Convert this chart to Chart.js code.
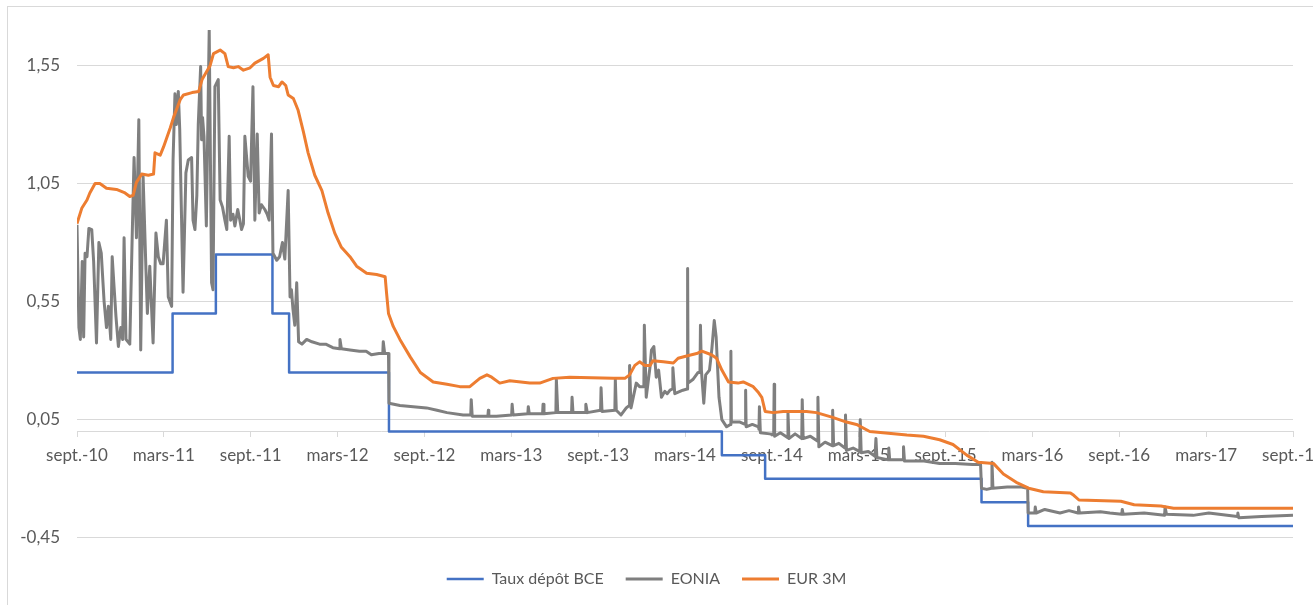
<!DOCTYPE html>
<html>
<head>
<meta charset="utf-8">
<script src="https://cdn.jsdelivr.net/npm/chart.js@4.4.1/dist/chart.umd.min.js"></script>
<style>
  html, body { margin: 0; padding: 0; background: #fff; overflow: hidden; }
  #frame { position: absolute; left: 7px; top: 6px; width: 1400px; height: 700px;
           border-left: 1px solid #d9d9d9; border-top: 1px solid #d9d9d9; }
  #wrap { position: absolute; left: 0; top: 0; width: 1313px; height: 605px; }
</style>
</head>
<body>
<div id="frame"></div>
<div id="wrap"><canvas id="chart"></canvas></div>
<script>
// axe des dates
const xLabels = ["sept.-10", "mars-11", "sept.-11", "mars-12", "sept.-12", "mars-13", "sept.-13",
                 "mars-14", "sept.-14", "mars-15", "sept.-15", "mars-16", "sept.-16", "mars-17", "sept.-17"];
const xStart = "2010-09-24";
const xEnd = "2017-09-24";
const yTicks = [-0.45, 0.05, 0.55, 1.05, 1.55];
const yMin = -0.45;
const yMax = 1.70;

// Taux de dépôt BCE (changements)
const depotBCE = [
  ["2010-09-24", 0.25], ["2011-04-13", 0.50], ["2011-07-13", 0.75], ["2011-11-09", 0.50],
  ["2011-12-14", 0.25], ["2012-07-11", 0.00], ["2014-06-11", -0.10], ["2014-09-10", -0.20],
  ["2015-12-09", -0.30], ["2016-03-16", -0.40], ["2017-09-24", -0.40]
];

// EONIA
const eonia = [
  ["2010-09-24", 0.875], ["2010-09-28", 0.44], ["2010-10-01", 0.39], ["2010-10-05", 0.72],
  ["2010-10-08", 0.40], ["2010-10-11", 0.755], ["2010-10-15", 0.74], ["2010-10-19", 0.86],
  ["2010-10-25", 0.855], ["2010-10-29", 0.72], ["2010-11-04", 0.375], ["2010-11-09", 0.80],
  ["2010-11-14", 0.755], ["2010-11-20", 0.55], ["2010-11-25", 0.44], ["2010-11-29", 0.53],
  ["2010-12-04", 0.39], ["2010-12-07", 0.74], ["2010-12-11", 0.61], ["2010-12-15", 0.485],
  ["2010-12-20", 0.36], ["2010-12-25", 0.44], ["2010-12-29", 0.39], ["2011-01-01", 0.82],
  ["2011-01-05", 0.39], ["2011-01-13", 0.37], ["2011-01-18", 0.82], ["2011-01-22", 1.16],
  ["2011-01-27", 0.82], ["2011-02-01", 1.32], ["2011-02-05", 0.345], ["2011-02-10", 1.08],
  ["2011-02-16", 0.685], ["2011-02-19", 0.50], ["2011-02-24", 0.70], ["2011-03-03", 0.375],
  ["2011-03-09", 0.84], ["2011-03-14", 0.74], ["2011-03-19", 0.71], ["2011-03-24", 0.71],
  ["2011-03-31", 0.895], ["2011-04-04", 0.57], ["2011-04-11", 0.53], ["2011-04-14", 1.15],
  ["2011-04-18", 1.43], ["2011-04-21", 1.30], ["2011-04-25", 1.44], ["2011-04-28", 1.28],
  ["2011-05-05", 0.59], ["2011-05-11", 1.095], ["2011-05-16", 1.15], ["2011-05-23", 1.16],
  ["2011-05-26", 0.895], ["2011-05-30", 0.855], ["2011-06-03", 1.00], ["2011-06-06", 1.30],
  ["2011-06-11", 1.545], ["2011-06-13", 1.235], ["2011-06-15", 1.33], ["2011-06-18", 1.25],
  ["2011-06-23", 0.87], ["2011-06-29", 1.70], ["2011-07-04", 0.63], ["2011-07-07", 0.60],
  ["2011-07-11", 1.46], ["2011-07-18", 1.49], ["2011-07-22", 0.98], ["2011-07-27", 0.95],
  ["2011-08-01", 0.895], ["2011-08-05", 0.855], ["2011-08-10", 1.25], ["2011-08-13", 0.895],
  ["2011-08-18", 0.92], ["2011-08-22", 0.87], ["2011-08-28", 0.94], ["2011-09-01", 0.90],
  ["2011-09-05", 0.855], ["2011-09-09", 0.88], ["2011-09-12", 1.25], ["2011-09-19", 1.08],
  ["2011-09-24", 1.06], ["2011-09-29", 1.46], ["2011-10-03", 0.895], ["2011-10-08", 1.26],
  ["2011-10-12", 0.925], ["2011-10-17", 0.96], ["2011-10-24", 0.94], ["2011-10-29", 0.92],
  ["2011-11-02", 0.895], ["2011-11-07", 1.26], ["2011-11-10", 0.755], ["2011-11-18", 0.725],
  ["2011-11-24", 0.74], ["2011-11-30", 0.80], ["2011-12-05", 0.73], ["2011-12-12", 1.02],
  ["2011-12-16", 0.57], ["2011-12-19", 0.60], ["2011-12-22", 0.52], ["2011-12-26", 0.45],
  ["2011-12-30", 0.63], ["2012-01-03", 0.38], ["2012-01-10", 0.37], ["2012-01-20", 0.39],
  ["2012-01-31", 0.38], ["2012-02-16", 0.37], ["2012-02-29", 0.37], ["2012-03-15", 0.355],
  ["2012-03-29", 0.35], ["2012-03-30", 0.39], ["2012-04-02", 0.35], ["2012-04-20", 0.345],
  ["2012-05-10", 0.34], ["2012-05-24", 0.34], ["2012-06-04", 0.325], ["2012-06-20", 0.33],
  ["2012-06-28", 0.33], ["2012-06-29", 0.38], ["2012-07-02", 0.33], ["2012-07-10", 0.33],
  ["2012-07-11", 0.12], ["2012-08-03", 0.11], ["2012-08-31", 0.105], ["2012-09-28", 0.10],
  ["2012-10-20", 0.09], ["2012-11-10", 0.08], ["2012-12-14", 0.07], ["2012-12-30", 0.07],
  ["2012-12-31", 0.135], ["2013-01-02", 0.065], ["2013-02-04", 0.065], ["2013-02-05", 0.09],
  ["2013-02-06", 0.065], ["2013-02-22", 0.065], ["2013-03-26", 0.07], ["2013-03-27", 0.115],
  ["2013-03-29", 0.07], ["2013-04-29", 0.075], ["2013-04-30", 0.105], ["2013-05-02", 0.075],
  ["2013-05-30", 0.075], ["2013-05-31", 0.115], ["2013-06-02", 0.075], ["2013-06-27", 0.08],
  ["2013-06-28", 0.22], ["2013-07-01", 0.08], ["2013-07-30", 0.08], ["2013-07-31", 0.145],
  ["2013-08-02", 0.08], ["2013-08-28", 0.08], ["2013-08-29", 0.115], ["2013-09-01", 0.08],
  ["2013-09-29", 0.09], ["2013-09-30", 0.185], ["2013-10-02", 0.085], ["2013-10-29", 0.09],
  ["2013-10-30", 0.22], ["2013-11-01", 0.09], ["2013-11-11", 0.07], ["2013-11-22", 0.10],
  ["2013-11-28", 0.11], ["2013-11-29", 0.28], ["2013-12-02", 0.10], ["2013-12-13", 0.205],
  ["2013-12-20", 0.19], ["2013-12-29", 0.19], ["2013-12-30", 0.45], ["2014-01-03", 0.145],
  ["2014-01-11", 0.275], ["2014-01-14", 0.345], ["2014-01-19", 0.36], ["2014-01-24", 0.23],
  ["2014-01-29", 0.26], ["2014-02-04", 0.145], ["2014-02-11", 0.17], ["2014-02-16", 0.16],
  ["2014-02-22", 0.175], ["2014-02-27", 0.18], ["2014-02-28", 0.27], ["2014-03-04", 0.16],
  ["2014-03-21", 0.175], ["2014-03-30", 0.18], ["2014-03-31", 0.69], ["2014-04-01", 0.205],
  ["2014-04-11", 0.22], ["2014-04-22", 0.25], ["2014-04-26", 0.25], ["2014-04-27", 0.45],
  ["2014-04-29", 0.26], ["2014-05-04", 0.12], ["2014-05-08", 0.24], ["2014-05-16", 0.26],
  ["2014-05-21", 0.35], ["2014-05-26", 0.47], ["2014-05-30", 0.40], ["2014-06-05", 0.145],
  ["2014-06-11", 0.05], ["2014-06-21", 0.02], ["2014-06-29", 0.03], ["2014-06-30", 0.34],
  ["2014-07-01", 0.04], ["2014-07-19", 0.04], ["2014-07-30", 0.03], ["2014-07-31", 0.175],
  ["2014-08-01", 0.02], ["2014-08-14", 0.03], ["2014-08-27", 0.02], ["2014-08-28", 0.01],
  ["2014-08-29", 0.105], ["2014-08-31", -0.005], ["2014-09-20", -0.01], ["2014-09-28", -0.015],
  ["2014-09-29", 0.20], ["2014-09-30", -0.02], ["2014-10-12", -0.005], ["2014-10-27", -0.025],
  ["2014-10-28", 0.08], ["2014-10-30", -0.03], ["2014-11-12", -0.01], ["2014-11-26", -0.03],
  ["2014-11-27", 0.135], ["2014-11-29", -0.03], ["2014-12-14", -0.02], ["2014-12-29", -0.04],
  ["2014-12-30", 0.145], ["2015-01-01", -0.065], ["2015-01-14", -0.045], ["2015-01-29", -0.06],
  ["2015-01-30", 0.09], ["2015-02-01", -0.06], ["2015-02-12", -0.05], ["2015-02-25", -0.07],
  ["2015-02-26", 0.07], ["2015-02-28", -0.08], ["2015-03-14", -0.07], ["2015-03-28", -0.085],
  ["2015-03-29", 0.05], ["2015-03-31", -0.09], ["2015-04-15", -0.085], ["2015-04-29", -0.105],
  ["2015-05-01", -0.03], ["2015-05-03", -0.11], ["2015-05-27", -0.12], ["2015-05-28", -0.07],
  ["2015-05-30", -0.12], ["2015-06-27", -0.12], ["2015-06-28", -0.065], ["2015-06-30", -0.125],
  ["2015-08-10", -0.125], ["2015-09-12", -0.135], ["2015-10-15", -0.135], ["2015-11-20", -0.14],
  ["2015-12-07", -0.14], ["2015-12-09", -0.24], ["2015-12-20", -0.245], ["2015-12-30", -0.24],
  ["2015-12-31", -0.13], ["2016-01-02", -0.24], ["2016-02-01", -0.235], ["2016-03-02", -0.235],
  ["2016-03-15", -0.24], ["2016-03-16", -0.345], ["2016-03-30", -0.345], ["2016-03-31", -0.32],
  ["2016-04-02", -0.345], ["2016-04-20", -0.33], ["2016-05-22", -0.345], ["2016-06-10", -0.335],
  ["2016-06-29", -0.345], ["2016-06-30", -0.32], ["2016-07-02", -0.345], ["2016-08-15", -0.34],
  ["2016-09-04", -0.345], ["2016-09-29", -0.35], ["2016-09-30", -0.33], ["2016-10-02", -0.35],
  ["2016-11-15", -0.345], ["2016-12-28", -0.355], ["2016-12-29", -0.32], ["2017-01-01", -0.35],
  ["2017-02-26", -0.355], ["2017-03-31", -0.345], ["2017-05-30", -0.36], ["2017-05-31", -0.345],
  ["2017-06-02", -0.365], ["2017-07-20", -0.36], ["2017-09-24", -0.355]
];

// EUR 3M
const eur3m = [
  ["2010-09-24", 0.88], ["2010-10-04", 0.945], ["2010-10-15", 0.98], ["2010-10-21", 1.01],
  ["2010-11-01", 1.05], ["2010-11-11", 1.05], ["2010-11-25", 1.03], ["2010-12-16", 1.025],
  ["2011-01-03", 1.01], ["2011-01-13", 0.995], ["2011-01-20", 1.00], ["2011-01-27", 1.055],
  ["2011-02-07", 1.09], ["2011-02-21", 1.085], ["2011-03-04", 1.09], ["2011-03-07", 1.18],
  ["2011-03-18", 1.17], ["2011-03-25", 1.205], ["2011-04-08", 1.285], ["2011-04-15", 1.33],
  ["2011-04-29", 1.405], ["2011-05-06", 1.425], ["2011-05-24", 1.435], ["2011-06-07", 1.44],
  ["2011-06-14", 1.49], ["2011-06-24", 1.525], ["2011-07-01", 1.55], ["2011-07-08", 1.60],
  ["2011-07-22", 1.615], ["2011-08-01", 1.60], ["2011-08-08", 1.545], ["2011-08-19", 1.54],
  ["2011-08-29", 1.545], ["2011-09-09", 1.53], ["2011-09-23", 1.54], ["2011-10-03", 1.56],
  ["2011-10-21", 1.58], ["2011-10-31", 1.595], ["2011-11-04", 1.50], ["2011-11-11", 1.465],
  ["2011-11-22", 1.46], ["2011-11-29", 1.48], ["2011-12-07", 1.465], ["2011-12-12", 1.425],
  ["2011-12-23", 1.41], ["2012-01-02", 1.36], ["2012-01-13", 1.27], ["2012-01-23", 1.18],
  ["2012-02-06", 1.085], ["2012-02-21", 1.02], ["2012-03-05", 0.925], ["2012-03-19", 0.84],
  ["2012-04-02", 0.78], ["2012-04-20", 0.74], ["2012-05-04", 0.70], ["2012-05-25", 0.67],
  ["2012-06-15", 0.665], ["2012-07-03", 0.655], ["2012-07-06", 0.585], ["2012-07-10", 0.50],
  ["2012-07-20", 0.445], ["2012-08-03", 0.39], ["2012-08-25", 0.315], ["2012-09-15", 0.25],
  ["2012-10-12", 0.21], ["2012-11-10", 0.20], ["2012-12-07", 0.19], ["2012-12-28", 0.19],
  ["2013-01-18", 0.225], ["2013-02-02", 0.24], ["2013-02-12", 0.23], ["2013-03-01", 0.205],
  ["2013-03-22", 0.215], ["2013-05-03", 0.205], ["2013-05-24", 0.205], ["2013-06-21", 0.225],
  ["2013-07-26", 0.23], ["2013-10-26", 0.225], ["2013-11-19", 0.225], ["2013-11-29", 0.24],
  ["2013-12-10", 0.28], ["2013-12-20", 0.295], ["2013-12-31", 0.28], ["2014-01-11", 0.28],
  ["2014-01-17", 0.30], ["2014-02-08", 0.295], ["2014-03-01", 0.29], ["2014-03-11", 0.31],
  ["2014-03-29", 0.32], ["2014-04-19", 0.33], ["2014-04-30", 0.34], ["2014-05-20", 0.325],
  ["2014-05-31", 0.31], ["2014-06-11", 0.26], ["2014-06-25", 0.21], ["2014-07-15", 0.205],
  ["2014-07-26", 0.21], ["2014-08-16", 0.19], ["2014-08-27", 0.165], ["2014-09-03", 0.145],
  ["2014-09-10", 0.085], ["2014-09-27", 0.08], ["2014-10-18", 0.085], ["2014-12-06", 0.085],
  ["2014-12-27", 0.08], ["2015-01-30", 0.06], ["2015-02-28", 0.04], ["2015-03-21", 0.03],
  ["2015-04-18", 0.00], ["2015-05-16", -0.005], ["2015-07-05", -0.015], ["2015-08-09", -0.02],
  ["2015-09-12", -0.035], ["2015-10-10", -0.055], ["2015-11-08", -0.10], ["2015-12-02", -0.13],
  ["2016-01-03", -0.135], ["2016-01-24", -0.18], ["2016-02-20", -0.215], ["2016-03-17", -0.24],
  ["2016-04-17", -0.255], ["2016-06-13", -0.26], ["2016-06-20", -0.27], ["2016-07-01", -0.29],
  ["2016-09-27", -0.295], ["2016-10-25", -0.31], ["2016-12-20", -0.315], ["2017-01-16", -0.325],
  ["2017-09-24", -0.325]
];

const DAY = 86400000;
function dayNum(s) {
  const p = s.split("-").map(Number);
  const b = xStart.split("-").map(Number);
  return (Date.UTC(p[0], p[1] - 1, p[2]) - Date.UTC(b[0], b[1] - 1, b[2])) / DAY;
}
const toPoints = arr => arr.map(([d, v]) => ({ x: dayNum(d), y: v }));

const font = { family: "Lato", size: 17 };
const legendFont = { family: "Lato", size: 16 };
const textColor = "#595959";
const gridColor = "#d9d9d9";

new Chart(document.getElementById("chart"), {
  type: "line",
  data: {
    datasets: [{
      label: "Taux dépôt BCE",
      data: toPoints(depotBCE),
      borderColor: "#4472C4",
      backgroundColor: "#4472C4",
      borderWidth: 2.5,
      stepped: true,
      order: 3
    }, {
      label: "EONIA",
      data: toPoints(eonia),
      borderColor: "#7F7F7F",
      backgroundColor: "#7F7F7F",
      borderWidth: 3,
      order: 2
    }, {
      label: "EUR 3M",
      data: toPoints(eur3m),
      borderColor: "#ED7D31",
      backgroundColor: "#ED7D31",
      borderWidth: 3,
      order: 1
    }]
  },
  options: {
    responsive: true,
    maintainAspectRatio: false,
    animation: false,
    elements: {
      point: { radius: 0 },
      line: { tension: 0, borderJoinStyle: "round" }
    },
    layout: { padding: { top: 30, left: 0, right: 20, bottom: 8 } },
    scales: {
      x: {
        type: "linear",
        min: 0,
        max: dayNum(xEnd),
        position: { y: 0 },
        afterBuildTicks: s => {
          s.ticks = xLabels.map((l, i) => ({ value: s.min + i * (s.max - s.min) / (xLabels.length - 1) }));
        },
        afterFit: s => { s.paddingLeft = 0; s.paddingRight = 0; },
        grid: { drawOnChartArea: false, drawTicks: true, tickLength: 5, color: gridColor },
        border: { display: true, color: gridColor },
        ticks: {
          autoSkip: false, maxRotation: 0, minRotation: 0, padding: 9,
          color: textColor, font,
          callback: (v, i) => xLabels[i]
        }
      },
      y: {
        min: yMin,
        max: yMax,
        afterBuildTicks: s => { s.ticks = yTicks.map(v => ({ value: v })); },
        afterFit: s => { s.width = 77; s.paddingTop = 0; s.paddingBottom = 0; },
        grid: { color: gridColor, drawTicks: false },
        border: { display: false },
        ticks: {
          padding: 17, color: textColor, font,
          callback: v => v.toFixed(2).replace(".", ",")
        }
      }
    },
    plugins: {
      legend: {
        position: "bottom",
        title: { display: true, text: "", padding: { top: 10, bottom: 0 }, font: { size: 1 } },
        labels: {
          usePointStyle: true,
          pointStyle: "line",
          pointStyleWidth: 37,
          padding: 22,
          color: textColor,
          font: legendFont,
          sort: (a, b) => a.datasetIndex - b.datasetIndex
        }
      },
      tooltip: { enabled: false }
    }
  }
});
</script>
</body>
</html>
